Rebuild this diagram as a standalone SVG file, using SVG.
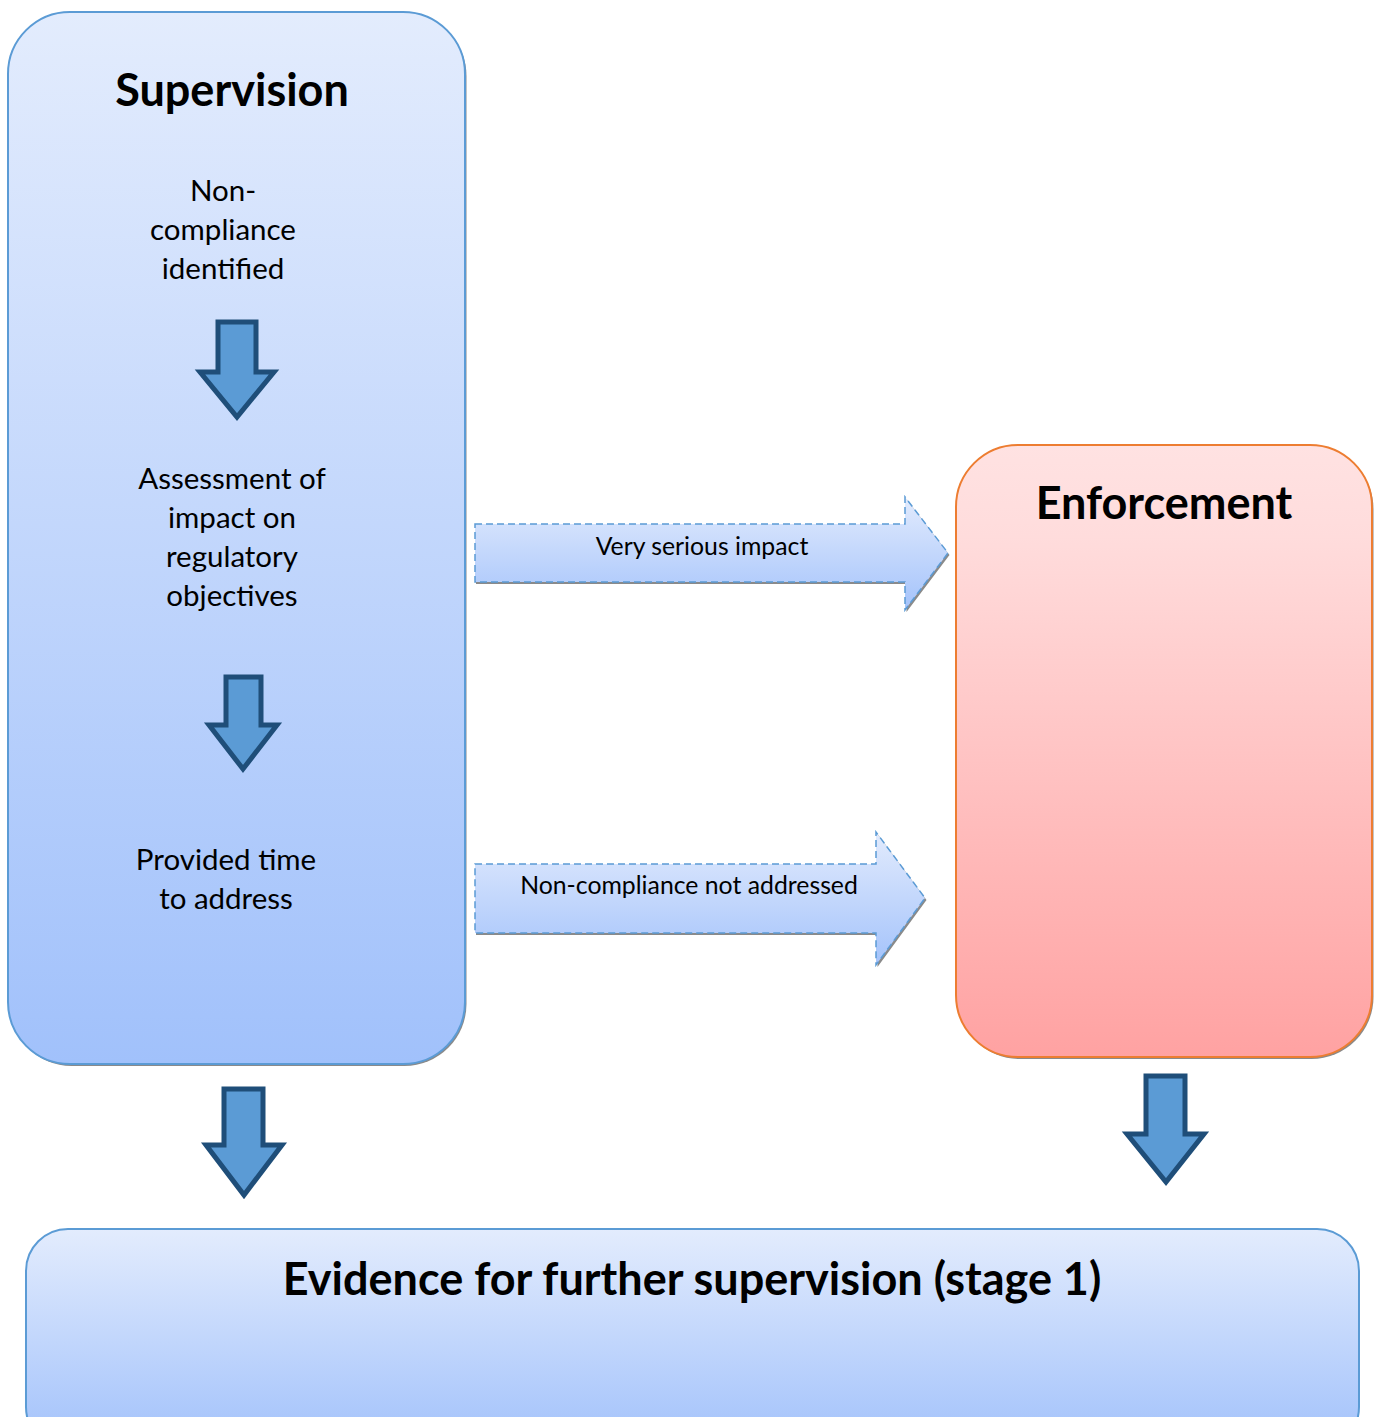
<svg xmlns="http://www.w3.org/2000/svg" width="1381" height="1417" viewBox="0 0 1381 1417">
<defs>
<linearGradient id="gBlue" x1="0" y1="0" x2="0" y2="1"><stop offset="0" stop-color="#e3ecfd"/><stop offset="1" stop-color="#a1c1fb"/></linearGradient>
<linearGradient id="gRed" x1="0" y1="0" x2="0" y2="1"><stop offset="0" stop-color="#ffe2e2"/><stop offset="0.15" stop-color="#ffdcdc"/><stop offset="1" stop-color="#ffa2a2"/></linearGradient>
<linearGradient id="gArr" x1="0" y1="0" x2="0" y2="1"><stop offset="0" stop-color="#e2ebfd"/><stop offset="1" stop-color="#a4c3fb"/></linearGradient>
<style>
.t{font-family:Lato,"Open Sans","Liberation Sans",sans-serif;fill:#000;text-anchor:middle}
.b{font-weight:bold}
.shadow{fill:#8a8a8a}
.down{fill:#5b9bd5;stroke:#1f4e79;stroke-width:5;stroke-linejoin:miter}
.dash{fill:url(#gArr);stroke:#5b9bd5;stroke-width:1.5;stroke-dasharray:7 4}
</style>
</defs>
<rect width="1381" height="1417" fill="#fff"/>
<g id="supervision">
<rect x="9.5" y="14" width="457" height="1052" rx="62" class="shadow"/>
<rect x="8" y="12" width="457" height="1052" rx="62" fill="url(#gBlue)" stroke="#5b9bd5" stroke-width="2"/>
<text class="t b" x="232" y="106" font-size="45">Supervision</text>
<text class="t" x="223" y="201" font-size="29.5">Non-</text>
<text class="t" x="223" y="240" font-size="29.5">compliance</text>
<text class="t" x="223" y="279" font-size="29.5">identified</text>
<text class="t" x="232" y="489" font-size="29.5">Assessment of</text>
<text class="t" x="232" y="528" font-size="29.5">impact on</text>
<text class="t" x="232" y="567" font-size="29.5">regulatory</text>
<text class="t" x="232" y="606" font-size="29.5">objectives</text>
<text class="t" x="226" y="870" font-size="29.5">Provided time</text>
<text class="t" x="226" y="909" font-size="29.5">to address</text>
</g>
<g id="enforcement">
<rect x="957.5" y="447" width="416" height="612" rx="62" class="shadow"/>
<rect x="956" y="445" width="416" height="612" rx="62" fill="url(#gRed)" stroke="#ed7d31" stroke-width="2"/>
<text class="t b" x="1164" y="519" font-size="45">Enforcement</text>
</g>
<g id="evidence">
<rect x="26" y="1229" width="1333" height="220" rx="42" fill="url(#gBlue)" stroke="#5b9bd5" stroke-width="2"/>
<text class="t b" x="692" y="1295" font-size="45">Evidence for further supervision (stage 1)</text>
</g>
<g id="connectors">
<path class="down" d="M218,322 H256 V372 H274 L237,417 L200,372 H218 Z"/>
<path class="down" d="M226,677 H261 V725 H277 L243,769 L209,725 H226 Z"/>
<path class="down" d="M224,1089 H263 V1145 H282 L244,1195 L206,1145 H224 Z"/>
<path class="down" d="M1146,1076 H1185 V1134 H1204 L1166,1182 L1127,1134 H1146 Z"/>
<path d="M476,526 H906.5 V499 L949.5,555 L906.5,612 V584 H476 Z" class="shadow"/>
<path d="M475,524 H905 V497 L948,553 L905,610 V582 H475 Z" class="dash"/>
<text class="t" x="702" y="555" font-size="24.8">Very serious impact</text>
<path d="M476,866 H877.5 V834 L926.5,900 L877.5,967 V935 H476 Z" class="shadow"/>
<path d="M475,864 H876 V832 L925,898 L876,965 V933 H475 Z" class="dash"/>
<text class="t" x="689" y="894" font-size="24.8">Non-compliance not addressed</text>
</g>
</svg>
